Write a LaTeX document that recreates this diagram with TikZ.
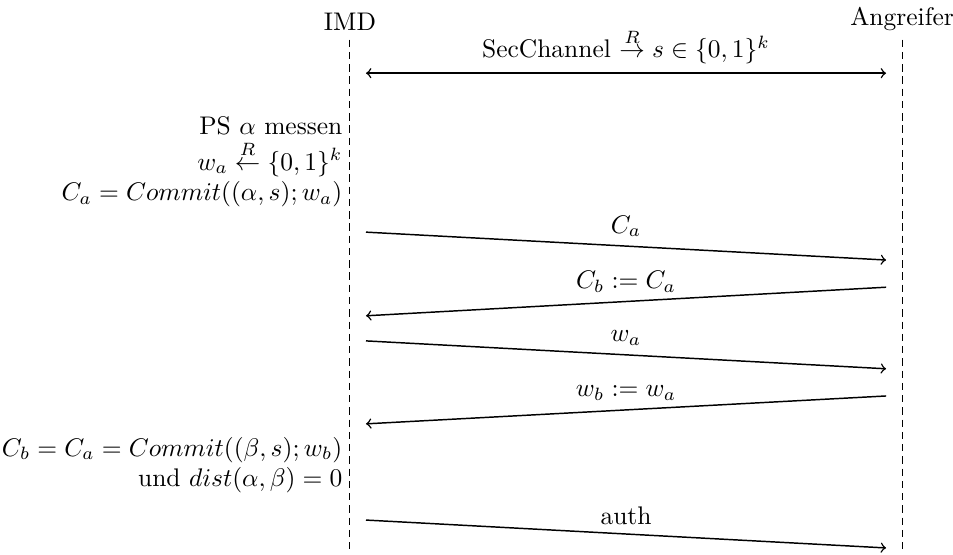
\documentclass[tikz,border=0pt]{standalone}
\usetikzlibrary{positioning}
\begin{document}
\begin{tikzpicture}[every node/.style={scale=1.04},
  lifeline/.style={densely dashed}, msg/.style={->, semithick}]

% fix the margins
\useasboundingbox (-5.02,0) rectangle (8.65,-7.95);

% IMD and Angreifer with lifelines
\node[anchor=south] (imd) at (0,-0.57) {IMD};
\node[anchor=south] (angr) at (7.92,-0.57) {Angreifer};
\coordinate (imdend) at (0,-7.95);
\coordinate (angrend) at (7.92,-7.95);
\draw[lifeline] (imd.south) -- (imdend);
\draw[lifeline] (angr.south) -- (angrend);

% end points of the messages
\def\xl{0.23}
\def\xr{7.69}
\coordinate (sec l) at (\xl,-1.05);
\coordinate (sec r) at (\xr,-1.05);
\coordinate (ca l) at (\xl,-3.33);
\coordinate (ca r) at (\xr,-3.73);
\coordinate (cb r) at (\xr,-4.12);
\coordinate (cb l) at (\xl,-4.53);
\coordinate (wa l) at (\xl,-4.89);
\coordinate (wa r) at (\xr,-5.29);
\coordinate (wb r) at (\xr,-5.68);
\coordinate (wb l) at (\xl,-6.08);
\coordinate (auth l) at (\xl,-7.46);
\coordinate (auth r) at (\xr,-7.86);

% secure channel
\draw[<->, semithick] (sec l) -- (sec r)
  node[midway, above] {SecChannel $\stackrel{R}{\rightarrow} s \in \{0,1\}^k$};

% IMD side
\node[anchor=east, align=right] (imdcalc) at (0.02,-2.32)
  {PS $\alpha$ messen\\[2pt]
   $w_a \stackrel{R}{\leftarrow} \{0,1\}^k$\\
   $C_a = Commit((\alpha,s);w_a)$};

% messages
\draw[msg] (ca l) -- (ca r) node[midway, above] {$C_a$};
\draw[msg] (cb r) -- (cb l) node[midway, above] {$C_b := C_a$};
\draw[msg] (wa l) -- (wa r) node[midway, above] {$w_a$};
\draw[msg] (wb r) -- (wb l) node[midway, above] {$w_b := w_a$};

% check
\node[anchor=east, align=right] (imdcheck) at (0.02,-6.67)
  {$C_b = C_a = Commit((\beta,s);w_b)$\\
   und $dist(\alpha,\beta) = 0$};

\draw[msg] (auth l) -- (auth r) node[midway, above] {auth};

\end{tikzpicture}
\end{document}
